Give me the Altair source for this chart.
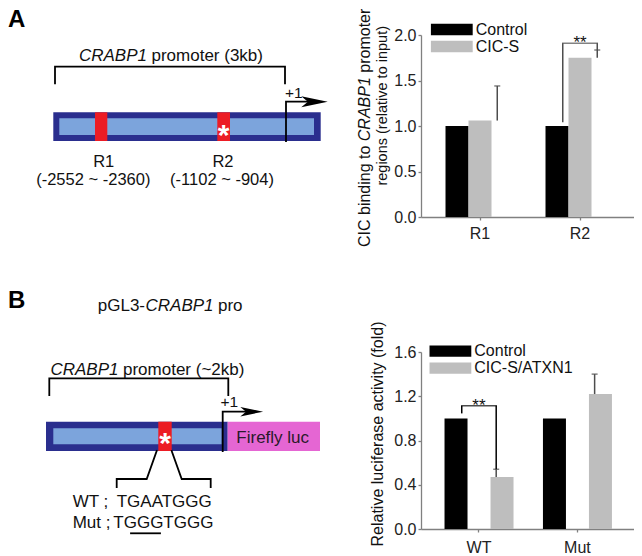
import altair as alt
import pandas as pd

FONT = "Liberation Sans, Arial, Helvetica, sans-serif"

# ---------------- measured data ----------------
chip_regions = ["R1", "R2"]
chip_groups = ["Control", "CIC-S"]
chip_control = [1.00, 1.00]
chip_cics = [1.06, 1.75]
chip_cics_sd = [0.38, 0.085]
chip_sig = ["R2"]
chip_bracket = [1.04, 1.91]       # low end over Control bar, bracket top

luc_constructs = ["WT", "Mut"]
luc_groups = ["Control", "CIC-S/ATXN1"]
luc_control = [1.00, 1.00]
luc_treated = [0.47, 1.22]
luc_treated_sd = [0.07, 0.18]
luc_sig = ["WT"]
luc_bracket = [1.045, 1.113]

# ---------------- colours ----------------
BLACK_BAR = "#000000"
GREY_BAR = "#bebebe"
AXIS_GREY = "#808080"
NAVY = "#2a2e8e"
LIGHT = "#7ca4dc"
RED = "#ec1c24"
PINK = "#e566d3"

LEGEND_SHAPE = "M-1,-0.27H1V0.27H-1Z"
ARROW = "M-1,-0.42L1,0L-1,0.42L-0.5,0Z"


def bar_panel(cats, groups, ctrl, trt, sd, sig, bracket, ymax, yticks,
              width, height, xs_kw, bracket_color, label_pad, title_layers,
              legend_xy):
    rows = []
    for c, a, b in zip(cats, ctrl, trt):
        rows.append({"cat": c, "group": groups[0], "value": a})
        rows.append({"cat": c, "group": groups[1], "value": b})
    bars_df = pd.DataFrame(rows)
    err_df = pd.DataFrame({
        "cat": cats, "value": trt, "upper": [v + s for v, s in zip(trt, sd)]})
    si = cats.index(sig[0])
    br_left = pd.DataFrame({"cat": sig, "value": [bracket[0]], "upper": [bracket[1]]})
    br_right = pd.DataFrame({"cat": sig, "value": [trt[si] + sd[si]],
                             "upper": [bracket[1]]})
    br_top = pd.DataFrame({"cat": sig, "value": [bracket[1]], "t": ["**"]})

    # half of one bar's width: offset of a bar centre from its group centre
    n = len(cats)
    step = width / (n - xs_kw["paddingInner"] + 2 * xs_kw["paddingOuter"])
    half = step * (1 - xs_kw["paddingInner"]) / 4

    def X():
        return alt.X("cat:N", scale=alt.Scale(domain=cats, **xs_kw),
                     axis=alt.Axis(title=None, labelAngle=0, labelFont=FONT,
                                   labelFontSize=16, labelColor="#222",
                                   labelPadding=label_pad, tickSize=3,
                                   tickColor=AXIS_GREY, domainColor=AXIS_GREY,
                                   domainWidth=1.3, tickWidth=1.3))

    def Y(f="value"):
        return alt.Y(f + ":Q", scale=alt.Scale(domain=[0, ymax], nice=False),
                     axis=alt.Axis(title=None, values=yticks, format=".1f",
                                   grid=False, labelFont=FONT, labelFontSize=16,
                                   labelColor="#222", labelPadding=2,
                                   tickSize=3, tickColor=AXIS_GREY,
                                   domainColor=AXIS_GREY, domainWidth=1.3,
                                   tickWidth=1.3))

    XO = alt.XOffset("group:N", scale=alt.Scale(domain=groups, paddingInner=0,
                                                paddingOuter=0))

    bars = alt.Chart(bars_df).mark_bar(strokeWidth=0).encode(
        x=X(), xOffset=XO, y=Y(),
        color=alt.Color("group:N",
                        scale=alt.Scale(domain=groups, range=[BLACK_BAR, GREY_BAR]),
                        legend=alt.Legend(orient="none", legendX=legend_xy[0],
                                          legendY=legend_xy[1],
                                          title=None, symbolType=LEGEND_SHAPE,
                                          symbolSize=1764, symbolStrokeWidth=0,
                                          symbolOpacity=1, clipHeight=15,
                                          labelFont=FONT, labelFontSize=16,
                                          labelColor="#111", labelOffset=3,
                                          labelLimit=300, rowPadding=0,
                                          padding=0, symbolOffset=0)))
    err = alt.Chart(err_df).mark_rule(color="#4d4d4d", strokeWidth=1.5,
                                      xOffset=half).encode(
        x=X(), y=Y(), y2="upper:Q")
    cap = alt.Chart(err_df).mark_tick(color="#4d4d4d", thickness=1.5, size=6,
                                      orient="horizontal", xOffset=half).encode(
        x=X(), y=Y("upper"))
    bl = alt.Chart(br_left).mark_rule(color=bracket_color, strokeWidth=1.5,
                                      xOffset=-half).encode(
        x=X(), y=Y(), y2="upper:Q")
    brr = alt.Chart(br_right).mark_rule(color=bracket_color, strokeWidth=1.5,
                                        xOffset=half).encode(
        x=X(), y=Y(), y2="upper:Q")
    bt = alt.Chart(br_top).mark_tick(color=bracket_color, thickness=1.5,
                                     size=2 * half + 1.5, orient="horizontal").encode(
        x=X(), y=Y())
    stars = alt.Chart(br_top).mark_text(font=FONT, fontSize=17, dy=5,
                                        baseline="alphabetic", color="#111").encode(
        x=X(), y=Y(), text="t:N")
    return alt.layer(bars, err, cap, bl, brr, bt, stars, *title_layers).properties(
        width=width, height=height)


def vtext(s, x, y, size=16, style="normal", align="left"):
    return alt.Chart(pd.DataFrame({"t": [s]})).mark_text(
        angle=270, align=align, baseline="alphabetic", font=FONT,
        fontSize=size, fontStyle=style, color="#111").encode(
        text="t:N", x=alt.value(x), y=alt.value(y))


titleA = [
    vtext("CIC binding to", -51, 212),
    vtext("CRABP1", -51, 106.2, style="italic"),
    vtext("promoter", -51, 37.7),
    vtext("regions (relative to input)", -34, 70.8, size=14.5, align="center"),
]
titleB = [vtext("Relative luciferase activity (fold)", -38, 82, align="center")]

barA = bar_panel(chip_regions, chip_groups, chip_control, chip_cics, chip_cics_sd,
                 chip_sig, chip_bracket, 2.0, [0, 0.5, 1.0, 1.5, 2.0], 213, 182,
                 dict(paddingInner=0.31, paddingOuter=0.22, align=0.557),
                 "#4d4d4d", 5, titleA, (9.7, -13))
barB = bar_panel(luc_constructs, luc_groups, luc_control, luc_treated,
                 luc_treated_sd, luc_sig, luc_bracket, 1.6,
                 [0, 0.4, 0.8, 1.2, 1.6], 213, 177,
                 dict(paddingInner=0.30, paddingOuter=0.232, align=0.515),
                 "#000000", 7, titleB, (8.3, -8.3))

# ---------------- schematic geometry (drawing units) ----------------
A_rects = pd.DataFrame({
    "x": [53.3, 59.3, 95.0, 217.3], "x2": [320.7, 314.0, 107.3, 230.0],
    "y": [112.3, 118.3, 112.3, 112.3], "y2": [141.0, 135.0, 141.0, 141.0],
    "fill": [NAVY, LIGHT, RED, RED]})
A_lines = pd.DataFrame({
    "seg": ["br"] * 4 + ["tss"] * 3,
    "o": [0, 1, 2, 3, 0, 1, 2],
    "x": [55, 55, 285, 285, 286, 286, 312],
    "y": [83.3, 66.7, 66.7, 83.3, 141, 101.7, 101.7]})
A_arrow = pd.DataFrame({"x": [314.5], "y": [101.7]})
A_texts = [
    ("A", 8, 27, 24, "normal", "bold", "left", "#000"),
    ("CRABP1", 147, 61, 17, "italic", "normal", "right", "#111"),
    ("promoter (3kb)", 151.5, 61, 17, "normal", "normal", "left", "#111"),
    ("+1", 285, 97.5, 15.5, "normal", "normal", "left", "#111"),
    ("R1", 103.7, 166.5, 16.5, "normal", "normal", "center", "#111"),
    ("(-2552 ~ -2360)", 93.3, 184.5, 16.5, "normal", "normal", "center", "#111"),
    ("R2", 223, 166.5, 16.5, "normal", "normal", "center", "#111"),
    ("(-1102 ~ -904)", 222, 184.5, 16.5, "normal", "normal", "center", "#111"),
    ("*", 223.7, 145, 30, "normal", "bold", "center", "#ffffff"),
]

B_rects = pd.DataFrame({
    "x": [46.0, 53.3, 227.7, 158.3], "x2": [227.7, 221.7, 320.0, 171.7],
    "y": [421.7, 428.3, 421.7, 421.7], "y2": [451.0, 444.3, 451.0, 451.0],
    "fill": [NAVY, LIGHT, PINK, RED]})
B_lines = pd.DataFrame({
    "seg": ["br"] * 4 + ["tss"] * 3 + ["cl"] * 4 + ["cr"] * 4 + ["ul"] * 2,
    "o": [0, 1, 2, 3, 0, 1, 2, 0, 1, 2, 3, 0, 1, 2, 3, 0, 1],
    "x": [49.3, 49.3, 228.3, 228.3, 222.7, 222.7, 249.5,
          156.7, 146.7, 116.7, 116.7, 171.7, 181.7, 210.7, 210.7, 131, 160],
    "y": [395, 378.3, 378.3, 395, 451, 411.7, 411.7,
          451, 479, 479, 487, 451, 479, 479, 487, 533.3, 533.3]})
B_arrow = pd.DataFrame({"x": [251.7], "y": [411.7]})
B_texts = [
    ("B", 8, 307.5, 24, "normal", "bold", "left", "#000"),
    ("pGL3-", 145, 310.5, 17, "normal", "normal", "right", "#111"),
    ("CRABP1", 145.5, 310.5, 17, "italic", "normal", "left", "#111"),
    ("pro", 218, 310.5, 17, "normal", "normal", "left", "#111"),
    ("CRABP1", 118.5, 374.5, 17, "italic", "normal", "right", "#111"),
    ("promoter (~2kb)", 123, 374.5, 17, "normal", "normal", "left", "#111"),
    ("+1", 220.5, 406.5, 15.5, "normal", "normal", "left", "#111"),
    ("Firefly luc", 272.7, 442.7, 17, "normal", "normal", "center", "#2a1a2a"),
    ("WT ;", 72.7, 506.7, 17, "normal", "normal", "left", "#111"),
    ("TGAATGGG", 116.7, 506.7, 17, "normal", "normal", "left", "#111"),
    ("Mut ;", 72.7, 528.3, 17, "normal", "normal", "left", "#111"),
    ("TGGGTGGG", 113.3, 528.3, 17, "normal", "normal", "left", "#111"),
    ("*", 165, 453, 30, "normal", "bold", "center", "#ffffff"),
]


def diagram(rects, lines, arrow, arrow_size, texts, ydom, height):
    xs = alt.Scale(domain=[8, 411], nice=False, zero=False)
    ys = alt.Scale(domain=ydom, nice=False, zero=False, reverse=True)
    X = lambda f="x": alt.X(f + ":Q", scale=xs, axis=None)
    Y = lambda f="y": alt.Y(f + ":Q", scale=ys, axis=None)
    layers = [
        alt.Chart(rects).mark_rect(strokeWidth=0).encode(
            x=X(), x2="x2:Q", y=Y(), y2="y2:Q",
            color=alt.Color("fill:N", scale=None)),
        alt.Chart(lines).mark_line(color="#000", strokeWidth=1.8,
                                   strokeCap="square", strokeJoin="miter").encode(
            x=X(), y=Y(), detail="seg:N", order="o:Q"),
        alt.Chart(arrow).mark_point(shape=ARROW, filled=True, size=arrow_size,
                                    color="#000", opacity=1, strokeWidth=0).encode(
            x=X(), y=Y()),
    ]
    for (s, x, y, size, style, weight, align, col) in texts:
        layers.append(alt.Chart(pd.DataFrame({"t": [s], "x": [x], "y": [y]})).mark_text(
            font=FONT, fontSize=size, fontStyle=style, fontWeight=weight,
            align=align, baseline="alphabetic", color=col).encode(
            x=X(), y=Y(), text="t:N"))
    return alt.layer(*layers).properties(width=403, height=height)


diagA = diagram(A_rects, A_lines, A_arrow, 700, A_texts, [35, 217], 182)
diagB = diagram(B_rects, B_lines, B_arrow, 520, B_texts, [352, 529], 177)

chart = alt.concat(diagA, barA, diagB, barB, columns=2,
                   spacing={"row": 135, "column": 10},
                   bounds="flush", align="each").resolve_scale(
    color="independent").resolve_legend(color="independent").properties(
    padding=0).configure_view(stroke=None)

chart.save("out.html", embed_options={"renderer": "svg", "actions": False})
